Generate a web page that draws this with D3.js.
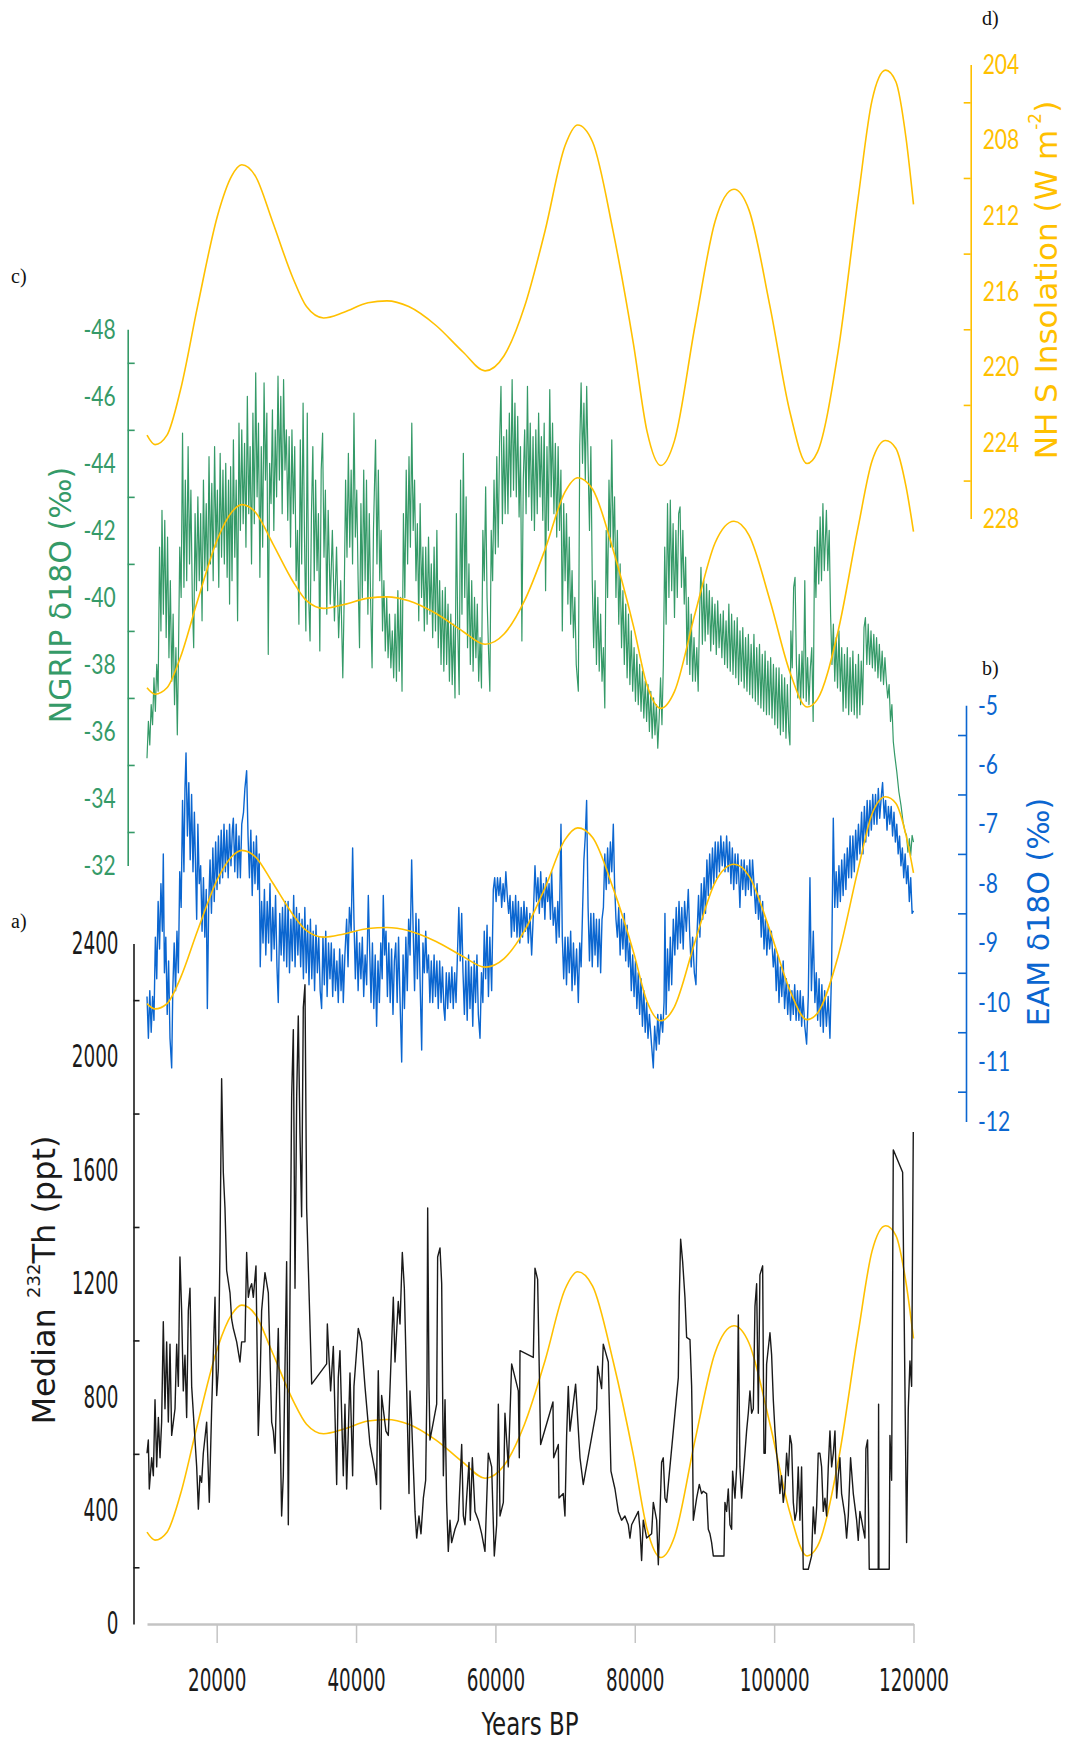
<!DOCTYPE html>
<html>
<head>
<meta charset="utf-8">
<script src="https://cdn.jsdelivr.net/npm/d3@7"></script>
<style>
  body { margin: 0; background: #fff; }
</style>
</head>
<body>
<svg id="chart" width="1068" height="1744"></svg>
<script>
// NH summer insolation, [year BP, W m-2] (same curve is repeated in every panel)
var insolation = [[10000,223.6],[11150,224.1],[12870,223.6],[14810,221.2],[17250,216.8],[20190,211.9],[22140,209.9],[23600,209.3],[25560,209.9],[28010,212.3],[30950,215.3],[32890,216.8],[35340,217.4],[38270,217.1],[41720,216.6],[44440,216.5],[47560,216.8],[51480,217.8],[55350,219.2],[58510,220.2],[61240,219.4],[64180,216.8],[67120,212.8],[69990,208.3],[71810,207.2],[73950,208.1],[76880,212.8],[79820,218.8],[81760,223.4],[83740,225.2],[85690,223.9],[88650,217.8],[91520,212.3],[94240,210.6],[96400,211.7],[99410,216.8],[102280,222.4],[104720,225.1],[106210,224.5],[109170,219.2],[112040,211.1],[114050,205.9],[116000,204.3],[117460,204.9],[118930,207.9],[120000,211.4]];

// NGRIP d18O, [year BP, permil]
var ngrip = [[10000,-35.2],[10200,-36.3],[10400,-35.6],[10600,-36.8],[10800,-36.2],[11000,-37.6],[11200,-36.6],[11400,-38.0],[11600,-37.2],[11800,-41.5],[12000,-39.0],[12150,-42.6],[12350,-39.5],[12550,-42.3],[12750,-38.8],[12950,-41.8],[13150,-38.2],[13350,-40.5],[13550,-37.5],[13750,-39.5],[13950,-36.8],[14150,-38.5],[14350,-35.9],[14500,-38.0],[14700,-41.5],[14900,-40.0],[15100,-44.9],[15300,-40.3],[15500,-43.5],[15700,-40.5],[15900,-44.5],[16100,-41.0],[16300,-43.2],[16500,-40.0],[16700,-38.5],[16900,-42.5],[17100,-40.2],[17300,-43.0],[17500,-40.5],[17700,-42.5],[17900,-39.3],[18100,-43.5],[18300,-40.8],[18500,-42.8],[18700,-40.2],[18900,-44.2],[19100,-41.0],[19300,-43.4],[19500,-40.5],[19700,-44.5],[19900,-41.5],[20100,-43.2],[20300,-40.3],[20500,-44.3],[20700,-41.2],[20900,-43.8],[21100,-41.0],[21300,-44.0],[21500,-40.6],[21700,-43.5],[21850,-39.8],[22000,-43.9],[22200,-40.5],[22400,-44.7],[22600,-41.2],[22800,-43.5],[23000,-39.3],[23200,-45.2],[23400,-42.0],[23600,-45.0],[23800,-42.2],[24000,-44.6],[24200,-41.5],[24400,-46.0],[24600,-42.5],[24800,-44.5],[25000,-41.0],[25200,-45.5],[25400,-42.2],[25600,-46.7],[25800,-43.0],[26000,-45.2],[26200,-40.6],[26400,-44.5],[26600,-41.5],[26800,-46.4],[27000,-43.5],[27200,-45.5],[27400,-38.3],[27600,-44.0],[27800,-42.8],[28000,-45.6],[28200,-42.0],[28400,-45.0],[28600,-43.0],[28800,-46.6],[29000,-43.5],[29200,-46.0],[29400,-42.5],[29600,-46.5],[29800,-43.8],[30000,-45.0],[30200,-42.3],[30400,-44.8],[30600,-41.5],[30800,-45.0],[31000,-42.5],[31200,-44.5],[31400,-40.5],[31600,-42.0],[31800,-39.2],[32000,-44.7],[32200,-41.0],[32400,-45.8],[32600,-41.8],[32800,-39.0],[33000,-45.5],[33200,-40.0],[33400,-38.7],[33600,-42.5],[33800,-44.5],[34000,-40.5],[34200,-43.5],[34400,-40.8],[34600,-42.5],[34800,-38.4],[35000,-43.8],[35200,-44.9],[35400,-41.2],[35600,-43.2],[35800,-39.5],[36000,-42.6],[36300,-39.8],[36600,-42.0],[36900,-39.3],[37200,-41.5],[37500,-38.8],[37800,-40.5],[38100,-37.6],[38300,-40.0],[38500,-43.5],[38700,-41.2],[38900,-44.3],[39100,-41.5],[39300,-43.8],[39500,-41.0],[39700,-45.5],[39900,-41.8],[40100,-43.2],[40300,-40.5],[40500,-38.5],[40700,-42.8],[40900,-40.0],[41100,-43.8],[41300,-40.5],[41500,-43.5],[41700,-39.5],[41900,-42.5],[42100,-39.8],[42300,-37.9],[42500,-42.0],[42800,-44.7],[43000,-41.0],[43200,-43.8],[43400,-40.5],[43600,-42.0],[43800,-39.0],[44000,-40.5],[44200,-38.4],[44400,-40.0],[44600,-38.2],[44800,-39.5],[45000,-37.9],[45200,-39.0],[45400,-37.6],
  [45600,-39.5],[45800,-37.5],[46000,-40.2],[46200,-37.8],[46400,-40.0],[46600,-37.2],[46800,-42.5],[47000,-40.0],[47200,-43.8],[47400,-41.0],[47600,-44.2],[47800,-41.5],[48000,-45.2],[48200,-42.0],[48400,-43.5],[48600,-40.5],[48800,-42.2],[49000,-39.3],[49200,-42.8],[49400,-40.0],[49600,-41.5],[49800,-39.0],[50000,-41.5],[50200,-39.2],[50400,-41.8],[50600,-39.5],[50800,-41.0],[51000,-38.8],[51200,-41.5],[51400,-39.0],[51600,-42.0],[51800,-38.5],[52000,-40.5],[52200,-38.0],[52400,-40.2],[52600,-37.8],[52800,-40.3],[53000,-38.0],[53200,-39.8],[53400,-37.5],[53600,-39.5],[53800,-37.4],[54000,-39.2],[54200,-37.0],[54400,-42.5],[54600,-39.0],[54800,-37.1],[55000,-43.5],[55200,-39.5],[55400,-44.3],[55600,-40.0],[55800,-43.0],[56000,-38.5],[56200,-41.0],[56400,-38.0],[56600,-40.5],[56800,-37.8],[57000,-40.0],[57200,-38.2],[57400,-39.8],[57600,-37.5],[57800,-38.8],[58000,-37.3],[58200,-42.0],[58400,-40.5],[58600,-43.3],[58800,-40.0],[59000,-38.5],[59200,-37.2],[59400,-42.0],[59600,-40.5],[59800,-43.5],[60000,-41.3],[60200,-44.2],[60400,-41.5],[60600,-44.6],[60800,-46.3],[61000,-42.2],[61200,-44.8],[61400,-42.5],[61600,-45.0],[61800,-42.5],[62000,-45.5],[62200,-43.0],[62400,-46.5],[62600,-43.2],[62800,-45.8],[63000,-43.0],[63200,-45.4],[63400,-42.4],[63600,-44.5],[63800,-38.7],[64000,-43.5],[64200,-45.0],[64400,-42.5],[64600,-46.3],[64800,-43.0],[65000,-45.2],[65200,-42.3],[65400,-44.8],[65600,-42.0],[65800,-45.0],[66000,-42.5],[66200,-45.5],[66400,-43.0],[66600,-44.8],[66800,-42.3],[67000,-45.2],[67200,-40.2],[67400,-44.5],[67600,-42.0],[67800,-46.2],[68000,-43.0],[68200,-45.2],[68400,-42.5],[68600,-44.6],[68800,-41.8],[69000,-44.5],[69200,-42.0],[69400,-43.8],[69600,-39.0],[69800,-42.8],[70000,-40.5],[70200,-42.5],[70400,-39.8],[70600,-41.8],[70800,-39.2],[71000,-40.8],[71200,-38.8],[71400,-40.0],[71600,-38.0],[71900,-37.2],[72100,-44.5],[72300,-46.4],[72500,-44.0],[72700,-45.8],[72900,-43.5],[73100,-46.3],[73300,-44.0],[73500,-42.0],[73700,-44.5],[73900,-40.5],[74100,-38.5],[74300,-40.5],[74500,-38.0],[74700,-40.0],[74900,-37.8],[75100,-39.5],[75300,-37.5],[75500,-38.5],[75700,-36.7],[75900,-42.0],[76100,-40.0],[76300,-43.5],[76500,-41.5],[76700,-44.7],[76900,-41.5],[77100,-43.0],[77300,-40.0],[77500,-42.0],[77700,-39.2],[77900,-41.0],[78100,-38.5],[78300,-40.2],[78500,-38.0],[78700,-39.8],[78900,-37.6],[79100,-39.5],[79300,-37.4],[79500,-39.0],[79700,-37.2],[79900,-38.5],[80100,-36.9],[80300,-38.3],[80500,-36.8],[80700,-38.0],[80900,-36.6],[81100,-37.8],[81300,-36.4],[81500,-37.5],[81700,-36.3],[81900,-37.4],[82100,-36.0],[82300,-37.2],[82500,-35.8],[82700,-37.0],[82900,-35.9],[83100,-36.8],[83300,-35.5],[83500,-36.4],
  [83700,-37.6],[83900,-36.2],[84100,-38.0],[84300,-41.5],[84500,-39.2],[84700,-42.8],[84900,-40.0],[85100,-42.9],[85300,-40.2],[85500,-42.2],[85700,-39.4],[85900,-42.0],[86100,-40.0],[86300,-42.5],[86500,-42.7],[86700,-40.3],[86900,-42.0],[87100,-39.8],[87300,-41.2],[87500,-38.0],[87700,-40.0],[87900,-37.7],[88100,-39.5],[88300,-37.5],[88500,-38.8],[88700,-37.5],[88900,-38.5],[89100,-37.2],[89300,-39.5],[89500,-40.9],[89700,-38.6],[89900,-40.5],[90100,-38.7],[90300,-40.4],[90500,-38.9],[90700,-40.2],[90900,-38.4],[91100,-40.0],[91300,-38.6],[91500,-39.8],[91700,-38.3],[91900,-39.9],[92100,-38.5],[92300,-39.5],[92500,-38.2],[92700,-39.6],[92900,-38.0],[93100,-39.3],[93300,-37.9],[93500,-39.8],[93700,-37.8],[93900,-39.5],[94100,-37.7],[94300,-39.3],[94500,-37.6],[94700,-39.4],[94900,-37.4],[95100,-39.0],[95300,-37.5],[95500,-39.1],[95700,-37.3],[95900,-38.8],[96100,-37.2],[96300,-38.9],[96500,-37.1],[96700,-38.6],[96900,-37.0],[97100,-38.9],[97300,-36.9],[97500,-38.5],[97700,-36.8],[97900,-38.6],[98100,-36.7],[98300,-38.3],[98500,-36.6],[98700,-38.4],[98900,-36.5],[99100,-38.1],[99300,-36.5],[99500,-38.2],[99700,-36.4],[99900,-38.0],[100100,-36.2],[100300,-37.9],[100500,-36.1],[100700,-37.9],[100900,-35.9],[101100,-37.7],[101300,-36.0],[101500,-37.6],[101700,-35.8],[101900,-37.4],[102100,-36.0],[102270,-35.6],[102400,-39.0],[102600,-37.9],[102800,-40.3],[103000,-40.6],[103200,-38.0],[103400,-37.0],[103600,-38.3],[103800,-36.8],[104000,-38.4],[104200,-37.0],[104400,-40.5],[104600,-36.9],[104800,-38.2],[105000,-36.8],[105200,-37.9],[105400,-38.5],[105600,-36.3],[105800,-41.5],[106000,-40.0],[106200,-42.0],[106400,-40.4],[106600,-42.4],[106800,-40.5],[107000,-42.8],[107200,-40.8],[107500,-42.6],[107700,-40.8],[107900,-42.0],[108100,-39.5],[108300,-38.0],[108500,-39.2],[108700,-37.5],[108900,-38.8],[109100,-37.3],[109300,-39.0],[109500,-37.2],[109700,-38.5],[109900,-36.6],[110100,-38.3],[110300,-36.7],[110500,-38.5],[110700,-36.5],[110900,-38.2],[111100,-36.6],[111300,-38.4],[111500,-36.5],[111700,-38.0],[111900,-36.4],[112100,-38.3],[112300,-36.5],[112500,-38.1],[112700,-36.8],[112900,-39.1],[113100,-39.4],[113300,-38.0],[113500,-39.2],[113700,-38.0],[113900,-39.0],[114100,-37.9],[114300,-38.9],[114500,-37.8],[114700,-38.8],[114900,-37.6],[115100,-38.6],[115300,-37.5],[115500,-38.4],[115700,-37.4],[115900,-38.2],[116100,-37.5],[116300,-37.0],[116500,-37.4],[116700,-36.3],[116900,-36.8],[117100,-35.7],[117300,-35.3],[117600,-34.8],[117900,-34.2],[118200,-33.8],[118500,-33.3],[118800,-33.0],[119000,-32.9],[119200,-32.4],[119400,-32.8],[119600,-32.3],[119800,-32.9],[120000,-32.7]];

// EAM speleothem d18O, [year BP, permil]
var eam = [[10000,-9.9],[10200,-10.6],[10400,-9.8],[10600,-10.5],[10800,-9.9],[11000,-10.3],[11200,-8.9],[11400,-9.6],[11600,-8.3],[11800,-9.1],[12000,-8.0],[12200,-8.8],[12340,-7.5],[12500,-9.5],[12700,-8.9],[12900,-10.2],[13100,-9.3],[13300,-10.6],[13540,-11.1],[13700,-9.8],[13900,-9.0],[14100,-9.8],[14300,-8.8],[14500,-9.5],[14700,-7.8],[14900,-8.4],[15100,-6.6],[15300,-7.8],[15450,-6.4],[15600,-5.8],[15800,-7.2],[16000,-6.3],[16200,-7.6],[16400,-6.5],[16600,-7.8],[16800,-6.8],[17000,-7.9],[17130,-8.6],[17300,-7.0],[17500,-8.0],[17700,-7.7],[17900,-8.8],[18100,-7.9],[18300,-8.9],[18500,-8.1],[18660,-10.1],[18850,-8.4],[19050,-7.6],[19250,-8.5],[19450,-7.4],[19650,-8.3],[19850,-7.3],[20050,-8.1],[20250,-7.2],[20450,-8.0],[20650,-7.1],[20850,-7.9],[21050,-7.0],[21250,-7.8],[21450,-7.1],[21650,-7.9],[21850,-7.0],[22050,-7.7],[22250,-7.1],[22390,-6.9],[22600,-7.8],[22800,-7.0],[23000,-7.9],[23200,-7.2],[23400,-7.9],[23600,-7.0],[23850,-6.8],[24050,-6.4],[24300,-6.1],[24500,-7.2],[24700,-7.9],[24900,-7.1],[25100,-8.2],[25300,-7.3],[25500,-8.0],[25700,-7.2],[25900,-8.1],[26100,-7.5],[26250,-9.4],[26450,-8.3],[26650,-9.0],[26850,-8.1],[27050,-9.2],[27250,-8.3],[27450,-9.0],[27650,-8.0],[27850,-9.3],[28050,-8.4],[28250,-9.1],[28450,-8.2],[28650,-9.4],[28840,-10.0],[29050,-8.5],[29250,-9.2],[29450,-8.4],[29650,-9.3],[29850,-8.3],[30050,-9.4],[30250,-8.3],[30450,-9.5],[30650,-8.6],[30850,-9.3],[31050,-8.2],[31250,-9.4],[31450,-8.4],[31650,-9.2],[31850,-8.5],[32050,-9.4],[32250,-8.6],[32450,-9.6],[32650,-8.4],[32850,-9.5],[33050,-8.7],[33250,-9.7],[33450,-8.6],[33650,-9.6],[33850,-8.8],[34050,-9.8],[34250,-8.7],[34450,-9.5],[34650,-8.9],[34850,-9.8],[35060,-10.1],[35250,-8.9],[35450,-9.7],[35650,-8.8],[35850,-9.9],[36050,-9.0],[36260,-9.6],[36450,-9.0],[36650,-9.9],[36850,-9.1],[37050,-9.8],[37250,-9.3],[37450,-10.0],[37650,-9.1],[37850,-9.8],[38050,-9.2],[38170,-10.0],[38400,-9.2],[38650,-8.6],[38850,-9.4],[39050,-8.4],[39300,-8.8],[39510,-7.4],[39700,-8.6],[39900,-9.6],[40100,-8.8],[40300,-9.8],[40500,-9.0],[40700,-9.6],[40900,-8.9],[41100,-9.9],[41300,-9.2],[41520,-9.7],[41760,-8.2],[41950,-9.1],[42150,-10.0],[42350,-9.0],[42550,-10.1],[42750,-9.2],[42950,-10.4],[43150,-9.3],[43350,-10.0],[43550,-9.0],[43750,-9.6],[43910,-8.2],[44100,-9.2],[44300,-8.8],[44500,-9.9],[44700,-9.0],[44900,-10.0],[45100,-9.1],[45300,-10.2],[45500,-9.3],
  [45700,-9.0],[45900,-10.0],[46100,-8.9],[46300,-9.9],[46550,-11.0],[46750,-9.2],[46950,-10.1],[47150,-8.9],[47350,-9.8],[47550,-8.6],[47750,-9.2],[47980,-7.6],[48200,-8.8],[48400,-9.8],[48600,-8.5],[48800,-9.6],[49000,-8.6],[49200,-9.7],[49420,-10.8],[49600,-9.0],[49800,-9.5],[50000,-8.8],[50200,-9.5],[50400,-9.2],[50600,-10.0],[50800,-9.3],[51000,-10.0],[51200,-9.2],[51400,-9.9],[51600,-9.3],[51800,-10.1],[52000,-9.3],[52200,-10.0],[52400,-9.4],[52600,-10.1],[52760,-10.3],[52950,-9.5],[53150,-10.1],[53350,-9.5],[53550,-10.0],[53750,-9.4],[53950,-10.1],[54150,-9.5],[54350,-10.0],[54550,-9.2],[54750,-8.4],[54950,-9.3],[55160,-8.5],[55350,-9.5],[55550,-10.2],[55750,-9.3],[55950,-10.3],[56150,-9.2],[56350,-10.1],[56550,-9.4],[56750,-10.4],[56950,-9.3],[57150,-10.0],[57350,-9.2],[57550,-10.2],[57790,-10.6],[58000,-9.5],[58200,-10.0],[58400,-8.8],[58600,-9.6],[58800,-8.7],[59000,-9.9],[59200,-8.9],[59460,-9.8],[59700,-8.1],[59900,-7.9],[60100,-8.3],[60300,-7.9],[60500,-8.2],[60700,-7.9],[60900,-8.4],[61100,-8.0],[61300,-8.3],[61500,-7.8],[61700,-8.2],[61900,-8.5],[62100,-8.2],[62300,-8.9],[62500,-8.3],[62700,-8.8],[62900,-8.2],[63100,-8.9],[63300,-8.3],[63500,-9.0],[63700,-8.4],[63900,-8.9],[64100,-8.3],[64300,-8.8],[64500,-8.4],[64720,-9.0],[64950,-8.5],[65200,-9.2],[65450,-8.5],[65680,-7.7],[65900,-8.3],[66100,-7.9],[66300,-8.5],[66500,-7.8],[66700,-8.4],[66900,-8.0],[67100,-8.6],[67300,-7.9],[67500,-8.3],[67700,-8.0],[67900,-8.6],[68070,-7.8],[68300,-8.7],[68550,-8.4],[68750,-9.0],[68950,-8.3],[69150,-8.9],[69410,-7.0],[69600,-8.9],[69800,-9.6],[70000,-8.9],[70200,-9.7],[70400,-8.9],[70600,-9.5],[70800,-8.8],[71000,-9.8],[71200,-9.0],[71400,-9.7],[71650,-9.1],[71900,-10.0],[72100,-9.0],[72300,-9.4],[72500,-8.5],[72700,-7.6],[72900,-7.2],[73090,-6.6],[73300,-8.4],[73500,-9.3],[73700,-8.5],[73900,-9.4],[74100,-8.5],[74300,-9.2],[74500,-8.6],[74700,-9.4],[74900,-8.6],[75100,-9.5],[75300,-8.6],[75500,-8.4],[75700,-7.5],[75900,-8.1],[76100,-7.4],[76300,-8.0],[76500,-7.3],[76700,-7.8],[76920,-7.0],[77100,-8.0],[77300,-8.6],[77500,-8.9],[77700,-8.4],[77900,-9.2],[78100,-8.6],[78300,-9.1],[78500,-8.5],[78700,-9.3],[78900,-8.7],[79100,-9.4],[79300,-9.0],[79500,-9.8],[79700,-9.2],[79900,-9.9],[80100,-9.3],[80300,-10.1],[80500,-9.5],[80700,-10.2],[80900,-9.6],[81100,-10.4],[81300,-9.8],[81500,-10.5],[81700,-10.0],[81900,-10.6],[82100,-10.2],[82400,-10.7],[82660,-11.1],[82850,-10.4],[83100,-10.8],[83300,-10.2],[83500,-10.7],[83750,-10.2],[84000,-10.5],[84200,-10.0],
  [84330,-8.5],[84500,-10.2],[84700,-9.1],[84900,-9.8],[85100,-8.9],[85300,-9.7],[85530,-8.6],[85750,-9.2],[85950,-8.4],[86150,-9.1],[86350,-8.3],[86550,-9.0],[86750,-8.4],[86950,-9.1],[87150,-8.3],[87400,-8.8],[87680,-8.1],[87900,-8.9],[88100,-9.4],[88300,-8.9],[88550,-9.5],[88780,-9.7],[88950,-8.8],[89150,-8.2],[89350,-8.9],[89550,-8.0],[89750,-8.6],[89950,-7.9],[90150,-8.5],[90350,-7.6],[90550,-8.2],[90750,-7.5],[90950,-8.1],[91150,-7.4],[91350,-8.0],[91550,-7.3],[91750,-7.9],[91950,-7.3],[92150,-7.8],[92350,-7.2],[92550,-7.7],[92750,-7.3],[92950,-7.8],[93180,-7.2],[93400,-7.8],[93600,-7.3],[93800,-8.0],[94000,-7.4],[94200,-8.1],[94400,-7.5],[94600,-8.0],[94800,-7.5],[95090,-8.4],[95300,-7.6],[95500,-8.1],[95700,-7.6],[95900,-8.2],[96100,-7.7],[96300,-8.1],[96500,-7.6],[96700,-8.2],[96900,-7.6],[97100,-8.0],[97350,-8.5],[97550,-8.0],[97750,-8.6],[97950,-8.2],[98150,-8.9],[98350,-8.3],[98550,-9.1],[98750,-8.6],[98950,-9.2],[99150,-8.7],[99350,-9.1],[99600,-8.8],[99880,-9.4],[100100,-9.1],[100300,-9.8],[100500,-9.2],[100700,-10.0],[100900,-9.4],[101100,-9.9],[101300,-9.3],[101500,-10.1],[101750,-9.6],[101950,-10.2],[102150,-9.7],[102350,-10.3],[102550,-9.8],[102750,-10.2],[102950,-9.7],[103150,-10.3],[103350,-9.8],[103550,-10.3],[103750,-9.8],[103950,-10.4],[104150,-9.9],[104400,-10.4],[104660,-10.7],[104900,-9.9],[105140,-7.9],[105350,-9.8],[105620,-8.8],[105850,-10.0],[106050,-9.5],[106250,-10.3],[106450,-9.6],[106650,-10.4],[106850,-9.7],[107050,-10.5],[107250,-9.8],[107500,-10.4],[107750,-9.9],[108010,-10.6],[108250,-9.4],[108490,-6.9],[108700,-8.4],[108900,-7.8],[109100,-8.4],[109300,-7.7],[109500,-8.3],[109700,-7.6],[109900,-8.2],[110100,-7.5],[110300,-8.1],[110500,-7.4],[110700,-7.9],[110900,-7.2],[111100,-7.9],[111300,-7.2],[111500,-7.8],[111700,-7.1],[111900,-7.6],[112100,-7.0],[112310,-7.5],[112550,-6.8],[112750,-7.5],[112950,-6.7],[113150,-7.3],[113350,-6.6],[113550,-7.2],[113750,-6.6],[113950,-7.1],[114150,-6.5],[114350,-7.0],[114550,-6.5],[114750,-7.0],[114950,-6.4],[115150,-6.9],[115400,-6.5],[115565,-6.3],[115800,-6.9],[116000,-6.6],[116200,-7.1],[116400,-6.7],[116600,-7.0],[116800,-6.7],[117000,-7.2],[117200,-6.8],[117400,-7.3],[117600,-7.0],[117800,-7.5],[118000,-7.2],[118200,-7.7],[118400,-7.4],[118600,-7.9],[118800,-7.5],[119000,-8.0],[119200,-7.7],[119400,-8.3],[119600,-7.9],[119800,-8.5],[120000,-8.46]];

// median 232Th, [year BP, ppt]
var thorium = [[10000,602],[10190,649],[10330,476],[10670,586],[10910,523],[11150,791],[11390,554],[11630,728],[11870,586],[12100,712],[12340,1066],[12580,759],[12820,995],[13060,712],[13300,987],[13540,665],[13780,712],[14020,759],[14260,987],[14500,838],[14730,1294],[14970,1105],[15210,822],[15450,948],[15690,728],[15930,1105],[16170,1184],[16410,838],[16650,743],[16890,649],[17130,554],[17370,405],[17600,523],[17840,500],[18080,602],[18560,712],[18940,429],[19280,759],[19760,1152],[20000,806],[20240,901],[20470,1310],[20710,1923],[20950,1593],[21190,1467],[21430,1247],[21910,1168],[22150,1074],[22390,1042],[22870,995],[23340,924],[23580,995],[24060,995],[24300,1310],[24540,1152],[24780,1184],[25020,1200],[25260,1152],[25640,1263],[25970,665],[26210,838],[26450,1105],[26930,1239],[27410,1168],[27890,712],[28130,680],[28370,602],[28610,838],[28840,1042],[29080,728],[29320,381],[29560,523],[29800,901],[30040,1278],[30280,350],[30520,1152],[30760,1860],[31000,2096],[31240,1184],[31480,1860],[31710,2144],[31950,1735],[32190,1436],[32430,2175],[32670,2254],[32910,1467],[33630,846],[35780,917],[35880,1058],[36350,822],[36740,979],[37220,492],[37450,869],[37690,964],[38170,523],[38410,775],[38650,476],[38890,680],[39130,885],[39510,523],[39700,838],[40320,1042],[40800,995],[41280,838],[42000,633],[42720,539],[42950,492],[43190,893],[43530,405],[43670,806],[44290,680],[44630,665],[45350,1152],[45590,924],[46060,1137],
  [46310,1058],[46640,1310],[46930,1184],[47260,838],[47600,460],[47740,822],[47980,712],[48220,554],[48460,397],[48700,303],[49030,381],[49320,318],[49660,444],[49990,507],[50180,853],[50280,1467],[50470,838],[50610,649],[51090,712],[51570,775],[51710,1294],[52050,1326],[52290,1200],[52530,523],[52770,791],[53000,429],[53240,256],[53480,366],[53720,287],[54200,334],[54680,366],[55160,633],[55400,381],[55630,350],[55870,444],[56210,570],[56400,366],[56690,586],[57070,397],[57550,366],[58030,318],[58500,256],[58980,602],[59460,554],[59840,240],[60180,350],[60420,775],[60660,381],[61140,429],[61370,743],[61850,554],[62330,917],[63290,822],[63430,586],[63530,964],[65440,940],[65680,1255],[66060,1215],[66490,633],[68260,783],[68360,586],[69030,633],[69120,444],[69740,460],[69980,381],[70220,665],[70460,838],[70700,680],[71510,846],[72140,586],[72610,492],[74530,759],[74670,909],[75240,830],[75480,987],[76200,924],[76580,539],[77160,476],[77640,397],[78110,366],[78590,381],[79070,350],[79310,303],[79550,350],[80510,397],[80750,334],[80980,224],[81220,366],[81700,303],[82420,318],[82660,429],[83140,366],[83380,209],[83850,570],[84090,586],[84330,444],
  [84570,429],[85530,681],[86250,869],[86390,1152],[86580,1357],[86870,1278],[87200,1152],[87440,1011],[87920,1003],[88160,838],[88300,618],[88400,366],[88880,444],[89260,492],[89590,460],[89830,468],[90310,460],[90550,334],[90790,318],[91030,287],[91270,240],[92800,240],[92940,429],[93180,397],[93420,476],[93660,350],[93900,334],[94040,539],[94380,444],[94620,554],[94860,1090],[95090,554],[95330,444],[95570,523],[96050,681],[96290,743],[96530,822],[96770,743],[97010,759],[97250,1121],[97490,1200],[97730,743],[97960,1231],[98350,1263],[98540,602],[98730,602],[98920,917],[99400,1027],[99640,948],[99880,791],[100120,681],[100360,602],[100600,539],[100830,460],[101070,523],[101310,429],[101550,476],[101790,602],[102030,523],[102270,665],[102510,633],[102750,429],[102990,366],[103230,397],[103460,554],[103700,366],[103940,554],[104180,193],[104900,193],[105380,240],[105620,413],[105860,318],[106100,413],[106330,602],[106570,602],[106810,554],[107050,397],[107290,444],[107530,381],[107770,554],[108010,681],[108250,554],[108490,602],[108730,681],[108970,444],[109200,523],[109440,586],[109680,460],[110160,381],[110400,303],[110640,381],[110970,586],[111360,460],[111840,366],[112070,295],[112310,397],[112550,366],[112790,334],[113030,303],[113170,618],[113410,649],[113650,193],[114940,193],[114990,775],[115040,193],[116520,193],[116620,665],[116860,507],[117100,1672],[118440,1593],[118770,838],[119010,287],[119250,759],[119490,928],[119730,838],[119970,1735]];

// axis ticks
var thMajor = [0, 400, 800, 1200, 1600, 2000, 2400];
var thMinor = [200, 600, 1000, 1400, 1800, 2200];
var ngMajor = [-48, -46, -44, -42, -40, -38, -36, -34, -32];
var ngMinor = [-47, -45, -43, -41, -39, -37, -35, -33];
var eamMajor = [-5, -6, -7, -8, -9, -10, -11, -12];
var eamMinor = [-5.5, -6.5, -7.5, -8.5, -9.5, -10.5, -11.5];
var insMajor = [204, 208, 212, 216, 220, 224, 228];
var insMinor = [206, 210, 214, 218, 222, 226];
var yearTicks = [20000, 40000, 60000, 80000, 100000, 120000];

var GREEN = '#359a68', BLUE = '#0b66d0', GOLD = '#ffc000', INK = '#1a1a1a';
var NARROW = '"Liberation Sans Narrow", "DejaVu Sans Condensed", sans-serif';
var TICKFONT = 'Lato, "Open Sans", sans-serif';
var LABELFONT = '"DejaVu Sans", sans-serif';

var svg = d3.select('#chart');

var x = d3.scaleLinear().domain([10000, 120000]).range([147, 913.5]);
var yTh = d3.scaleLinear().domain([0, 2400]).range([1624, 943.4]);
var yNg = d3.scaleLinear().domain([-48, -32]).range([329.3, 865.5]);
var yEam = d3.scaleLinear().domain([-12, -5]).range([1121.4, 705.3]);
var yIns = d3.scaleLinear().domain([204, 228]).range([64.5, 518.4]);
// the insolation curve copied behind panels c, b and a
var yInsC = d3.scaleLinear().domain([204, 228]).range([436.7, 744.2]);
var yInsB = d3.scaleLinear().domain([204, 228]).range([793.6, 1050.7]);
var yInsA = d3.scaleLinear().domain([204, 228]).range([1221, 1602]);

function drawLine(data, yScale, color, width, curve){
    var line = d3.line()
        .x(function(d){ return x(d[0]); })
        .y(function(d){ return yScale(d[1]); });
    if (curve) line.curve(curve);
    svg.append('path')
        .datum(data)
        .attr('fill', 'none')
        .attr('stroke', color)
        .attr('stroke-width', width)
        .attr('stroke-linejoin', 'round')
        .attr('d', line);
}

// side: 'left' puts labels left of the line, minor ticks point right (and vice versa)
// sx/sy squeeze or stretch the tick text like the original figure
function sideAxis(scale, xPos, side, major, minor, color, pad, tickLen, font, size, sx, sy){
    var g = svg.append('g').attr('transform', 'translate(' + xPos + ',0)');
    var lab = (side === 'left' ? d3.axisLeft(scale) : d3.axisRight(scale))
        .tickValues(major).tickSize(0).tickSizeOuter(0).tickPadding(pad / sx)
        .tickFormat(function(d){ return String(d); });
    g.call(lab);
    g.attr('font-family', font).attr('font-size', size);
    g.select('.domain').attr('stroke', color).attr('stroke-width', 1.6);
    g.selectAll('.tick text').attr('fill', color).attr('transform', 'scale(' + sx + ',' + sy + ')');
    var m = svg.append('g').attr('transform', 'translate(' + xPos + ',0)');
    m.call((side === 'left' ? d3.axisRight(scale) : d3.axisLeft(scale))
        .tickValues(minor).tickSize(tickLen).tickSizeOuter(0).tickFormat(''));
    m.select('.domain').remove();
    m.selectAll('.tick line').attr('stroke', color).attr('stroke-width', 1.6);
}

function rotLabel(xp, yp, color, size, parts){
    var t = svg.append('text')
        .attr('transform', 'translate(' + xp + ',' + yp + ') rotate(-90)')
        .attr('text-anchor', 'middle')
        .attr('dominant-baseline', 'central')
        .attr('font-family', LABELFONT)
        .attr('font-size', size)
        .attr('fill', color);
    parts.forEach(function(p){
        var s = t.append('tspan').text(p.t);
        if (p.size) s.attr('font-size', p.size);
        if (p.dy) s.attr('dy', p.dy);
    });
}

function letter(xp, yp, txt){
    svg.append('text')
        .attr('x', xp).attr('y', yp)
        .attr('font-family', '"Liberation Serif", "DejaVu Serif", serif')
        .attr('font-size', 20)
        .attr('fill', '#111')
        .text(txt);
}

// panel a: insolation underneath, Th on top
drawLine(insolation, yInsA, GOLD, 1.6, d3.curveMonotoneX);
drawLine(thorium, yTh, INK, 1.4);

// panels b and c
drawLine(eam, yEam, BLUE, 1.4);
drawLine(ngrip, yNg, GREEN, 1.2);
drawLine(insolation, yInsB, GOLD, 1.6, d3.curveMonotoneX);
drawLine(insolation, yInsC, GOLD, 1.6, d3.curveMonotoneX);

// panel d
drawLine(insolation, yIns, GOLD, 1.6, d3.curveMonotoneX);

// axes
sideAxis(yTh, 133.5, 'left', thMajor, thMinor, INK, 15, 6, NARROW, 24, 0.85, 1.3);
sideAxis(yNg, 127.7, 'left', ngMajor, ngMinor, GREEN, 12, 7, TICKFONT, 21, 1, 1.3);
sideAxis(yEam, 966, 'right', eamMajor, eamMinor, BLUE, 12, 8, TICKFONT, 21, 1, 1.3);
sideAxis(yIns, 970.7, 'right', insMajor, insMinor, GOLD, 12, 7, TICKFONT, 21, 1, 1.3);

// x axis
var XSY = 1.3;
var xg = svg.append('g').attr('transform', 'translate(0,1624)');
xg.call(d3.axisBottom(x).tickValues(yearTicks).tickSize(19).tickSizeOuter(0)
    .tickFormat(function(d){ return String(d); }));
xg.attr('font-family', NARROW).attr('font-size', 24);
xg.select('.domain').attr('stroke', '#c4c4c4').attr('stroke-width', 2.5);
xg.selectAll('.tick line').attr('stroke', '#c4c4c4').attr('stroke-width', 1.5);
xg.selectAll('.tick text')
    .attr('fill', INK)
    .attr('y', 56 / XSY)
    .attr('dy', '0.35em')
    .attr('transform', 'scale(0.85,' + XSY + ')');

svg.append('text')
    .attr('x', 530).attr('y', 1724 / 1.25)
    .attr('text-anchor', 'middle')
    .attr('dominant-baseline', 'central')
    .attr('font-family', NARROW)
    .attr('font-size', 25.5)
    .attr('fill', INK)
    .attr('transform', 'scale(1,1.25)')
    .text('Years BP');

// axis titles
rotLabel(44, 1280, INK, 32, [{t: 'Median '}, {t: '232', size: 18, dy: -11}, {t: 'Th (ppt)', dy: 11}]);
rotLabel(60, 595, GREEN, 30, [{t: 'NGRIP δ18O (‰)'}]);
rotLabel(1038, 912, BLUE, 30, [{t: 'EAM δ18O (‰)'}]);
rotLabel(1046, 280, GOLD, 31, [{t: 'NH S Insolation (W m'}, {t: '-2', size: 17, dy: -11}, {t: ')', dy: 11}]);

// panel letters
letter(982, 25, 'd)');
letter(11, 283, 'c)');
letter(982, 675, 'b)');
letter(11, 928, 'a)');
</script>
</body>
</html>
